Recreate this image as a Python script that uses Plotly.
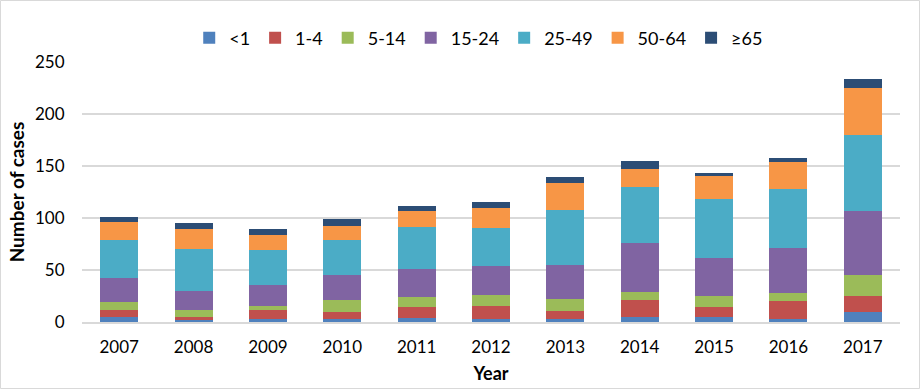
import plotly.graph_objects as go

years = ["2007", "2008", "2009", "2010", "2011", "2012", "2013", "2014", "2015", "2016", "2017"]
age_groups = ["<1", "1-4", "5-14", "15-24", "25-49", "50-64", "≥65"]

lt1 = [5, 2, 3, 3, 4, 3, 3, 5, 5, 3, 10]
a1_4 = [7, 3, 9, 7, 10, 12, 8, 16, 9, 17, 15]
a5_14 = [7, 7, 3, 11, 10, 11, 11, 8, 11, 8, 20]
a15_24 = [23, 18, 21, 24, 27, 28, 33, 47, 37, 43, 62]
a25_49 = [37, 40, 33, 34, 40, 36, 53, 54, 56, 57, 73]
a50_64 = [17, 19, 15, 13, 16, 20, 26, 17, 22, 26, 45]
ge65 = [5, 6, 5, 7, 5, 5, 5, 8, 3, 4, 9]

series = [lt1, a1_4, a5_14, a15_24, a25_49, a50_64, ge65]
colors = ["#4F81BD", "#C0504D", "#9BBB59", "#8064A2", "#4BACC6", "#F79646", "#2C4D75"]

FONT = "Lato, 'Liberation Sans', sans-serif"

fig = go.Figure()
for name, vals, col in zip(age_groups, series, colors):
    fig.add_trace(go.Bar(x=years, y=vals, name=name, marker=dict(color=col, line=dict(width=0))))

L, R, T, B = 82, 20, 62, 67
W, H = 920, 389
pw, ph = W - L - R, H - T - B

fig.update_layout(
    width=W, height=H,
    barmode="stack", bargap=0.49,
    paper_bgcolor="white", plot_bgcolor="white",
    margin=dict(l=L, r=R, t=T, b=B, autoexpand=False),
    font=dict(family=FONT, size=17, color="#000000"),
    legend=dict(orientation="h", x=0.485, xanchor="center", y=1 + 24 / ph, yanchor="middle",
                font=dict(size=18), traceorder="normal", itemwidth=30),
    xaxis=dict(showgrid=False, showline=True, linecolor="#D9D9D9", linewidth=1.5,
               ticks="outside", ticklen=9, tickcolor="rgba(0,0,0,0)",
               tickfont=dict(size=17),
               title=dict(text="<b>Year</b>", font=dict(size=18), standoff=11)),
    yaxis=dict(range=[0, 250], dtick=50, showgrid=True, gridcolor="#D9D9D9", gridwidth=1.5,
               zeroline=False, ticks="outside", ticklen=13, tickcolor="rgba(0,0,0,0)",
               tickfont=dict(size=17),
               title=dict(text="<b>Number of cases</b>", font=dict(size=19), standoff=5)),
    shapes=[dict(type="rect", xref="paper", yref="paper",
                 x0=(-L + 0.5) / pw, x1=1 + (R - 0.5) / pw,
                 y0=(-B + 0.5) / ph, y1=1 + (T - 0.5) / ph,
                 line=dict(color="#D9D9D9", width=1), layer="below")],
)

fig.write_html("out.html", config={"displayModeBar": False},
               post_script="document.body.style.margin='0';")
